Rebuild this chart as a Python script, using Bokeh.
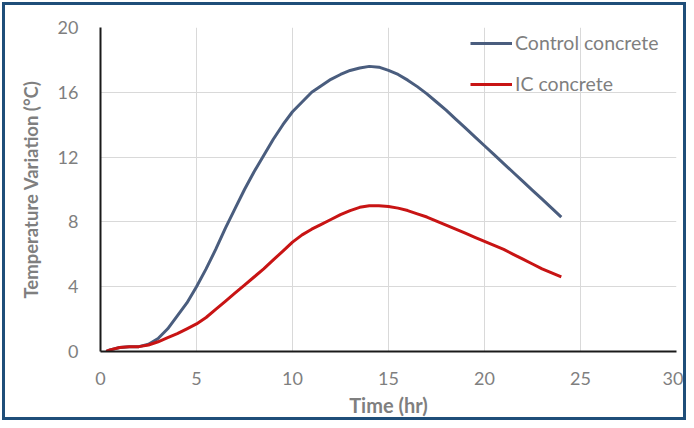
from bokeh.plotting import figure
from bokeh.models import Legend, LegendItem, FixedTicker
from bokeh.embed import file_html
from bokeh.resources import INLINE

time_hr = [0.3, 0.5, 1, 1.5, 2, 2.5, 3, 3.5, 4, 4.5, 5, 5.5, 6, 6.5, 7, 7.5, 8, 8.5,
           9, 9.5, 10, 10.5, 11, 11.5, 12, 12.5, 13, 13.5, 14, 14.5, 15, 15.5, 16,
           16.5, 17, 17.5, 18, 18.5, 19, 19.5, 20, 20.5, 21, 21.5, 22, 22.5, 23, 23.5, 24]
control = [0, 0.1, 0.25, 0.3, 0.3, 0.45, 0.8, 1.4, 2.2, 3.0, 4.0, 5.1, 6.3, 7.6, 8.8,
           10.0, 11.1, 12.1, 13.1, 14.0, 14.8, 15.4, 16.0, 16.4, 16.8, 17.1, 17.35,
           17.5, 17.6, 17.55, 17.35, 17.1, 16.75, 16.35, 15.9, 15.4, 14.9, 14.35,
           13.8, 13.25, 12.7, 12.15, 11.6, 11.05, 10.5, 9.95, 9.4, 8.85, 8.3]
ic = [0, 0.1, 0.25, 0.3, 0.3, 0.4, 0.6, 0.85, 1.1, 1.4, 1.7, 2.1, 2.6, 3.1, 3.6, 4.1,
      4.6, 5.1, 5.65, 6.2, 6.75, 7.2, 7.55, 7.85, 8.15, 8.45, 8.7, 8.9, 9.0, 9.0,
      8.95, 8.85, 8.7, 8.5, 8.3, 8.05, 7.8, 7.55, 7.3, 7.05, 6.8, 6.55, 6.3, 6.0,
      5.7, 5.4, 5.1, 4.85, 4.6]
series_names = ["Control concrete", "IC concrete"]
x_ticks = [0, 5, 10, 15, 20, 25, 30]
y_ticks = [0, 4, 8, 12, 16, 20]

FONT = "Lato"
GREY = "#7f7f7f"

p = figure(width=684, height=418, output_backend="svg", toolbar_location=None,
           x_range=(0, 30), y_range=(0, 20),
           min_border_left=95, min_border_right=13, min_border_top=22, min_border_bottom=72,
           styles={"border": "3px solid #1F4E79", "margin": "2px"})
p.outline_line_color = None
p.background_fill_color = "white"
p.border_fill_color = "white"

for ax in (p.xaxis[0], p.yaxis[0]):
    ax.axis_line_color = "#1a1a1a"
    ax.axis_line_width = 2
    ax.major_tick_line_color = None
    ax.minor_tick_line_color = None
    ax.major_label_text_color = GREY
    ax.major_label_text_font = FONT
    ax.major_label_text_font_size = "18px"
    ax.axis_label_text_color = GREY
    ax.axis_label_text_font = FONT
    ax.axis_label_text_font_style = "bold"

p.xaxis.axis_label_text_font_size = "20px"
p.yaxis.axis_label_text_font_size = "18.5px"
p.xaxis.ticker = FixedTicker(ticks=x_ticks)
p.yaxis.ticker = FixedTicker(ticks=y_ticks)
p.xaxis.axis_label = "Time (hr)"
p.yaxis.axis_label = "Temperature Variation (°C)"
p.xaxis.major_label_standoff = 14
p.yaxis.major_label_standoff = 16
p.xaxis.axis_label_standoff = 5
p.yaxis.axis_label_standoff = 13

p.grid.grid_line_color = "#d9d9d9"
p.grid.grid_line_width = 1
p.xgrid.ticker = FixedTicker(ticks=x_ticks)
p.ygrid.ticker = FixedTicker(ticks=y_ticks)

r1 = p.line(time_hr, control, line_color="#4A5D7E", line_width=3)
r2 = p.line(time_hr, ic, line_color="#C81414", line_width=3)

legend = Legend(items=[LegendItem(label=series_names[0], renderers=[r1]),
                       LegendItem(label=series_names[1], renderers=[r2])],
                location=(370, 256), orientation="vertical")
legend.background_fill_alpha = 0
legend.border_line_color = None
legend.padding = 0
legend.margin = 0
legend.spacing = 18
legend.glyph_width = 42
legend.glyph_height = 20
legend.label_height = 20
legend.label_standoff = 3
legend.label_text_font = FONT
legend.label_text_font_size = "19.5px"
legend.label_text_color = GREY
p.add_layout(legend, "center")

open("out.html", "w").write(file_html(p, INLINE))
